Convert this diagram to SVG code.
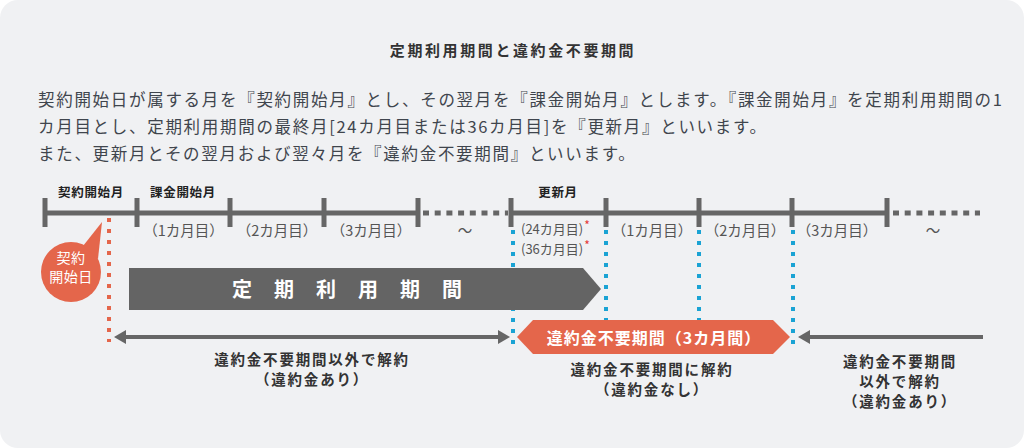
<svg xmlns="http://www.w3.org/2000/svg" width="1024" height="448" viewBox="0 0 1024 448">
<style>
.jp{font-family:"Noto Sans CJK JP","Noto Sans",sans-serif}
.title{font-size:15px;font-weight:700;fill:#333;letter-spacing:2.6px}
.body{font-size:16.5px;fill:#3f454d;letter-spacing:1.7px}
.head{font-size:12.5px;font-weight:700;fill:#222;letter-spacing:0.7px}
.mon{font-size:14.5px;fill:#555}
.sm{font-size:13px;fill:#555}
.ast{font-size:12px;fill:#e53935}
.lbl{font-size:14.5px;font-weight:700;fill:#333;letter-spacing:1.8px}
.axis{stroke:#666;stroke-width:5;fill:none}
.dash{stroke:#666;stroke-width:5;stroke-dasharray:6 5.7;fill:none}
.blue{stroke:#1aa3d4;stroke-width:4;stroke-dasharray:4 7;fill:none}
.red{stroke:#e4664b;stroke-width:4;stroke-dasharray:4 7;fill:none}
.arr{stroke:#666;stroke-width:4;fill:none}
</style>
<defs>
<marker id="ah" viewBox="0 0 12 14" refX="0" refY="7" markerWidth="12" markerHeight="14" markerUnits="userSpaceOnUse" orient="auto-start-reverse">
<path d="M0,0 L12,7 L0,14 Z" fill="#666"/>
</marker>
</defs>
<rect id="background" x="0" y="0" width="1024" height="448" rx="18" fill="#f0f1f3"/>
<g id="title"><text class="jp title" x="513" y="56" text-anchor="middle">定期利用期間と違約金不要期間</text></g>
<g id="description" class="jp body">
<text x="38" y="106">契約開始日が属する月を『契約開始月』とし、その翌月を『課金開始月』とします。『課金開始月』を定期利用期間の1</text>
<text x="38" y="133">カ月目とし、定期利用期間の最終月[24カ月目または36カ月目]を『更新月』といいます。</text>
<text x="38" y="160">また、更新月とその翌月および翌々月を『違約金不要期間』といいます。</text>
</g>
<g id="timeline">
<line class="axis" x1="45" y1="213" x2="418" y2="213"/>
<line class="axis" x1="511" y1="213" x2="887" y2="213"/>
<path class="axis" d="M45,198V227M137,198V227M230,198V227M324,198V227M418,198V227M511,198V227M606,198V227M699,198V227M792,198V227M887,198V227"/>
<line class="dash" x1="423" y1="213" x2="508" y2="213"/>
<line class="dash" x1="893" y1="213" x2="980" y2="213"/>
</g>
<g id="month-headers" class="jp head" text-anchor="middle">
<text x="91" y="197">契約開始月</text>
<text x="183" y="197">課金開始月</text>
<text x="558" y="197">更新月</text>
</g>
<g id="month-labels" class="jp mon" text-anchor="middle">
<text x="183.5" y="236">（1カ月目）</text>
<text x="277" y="236">（2カ月目）</text>
<text x="371" y="236">（3カ月目）</text>
<text x="465" y="236">～</text>
<text x="652" y="236">（1カ月目）</text>
<text x="745" y="236">（2カ月目）</text>
<text x="837" y="236">（3カ月目）</text>
<text x="933" y="236">～</text>
</g>
<g id="renewal-notes" class="jp">
<text class="sm" x="521" y="234">(24カ月目)<tspan class="ast" dx="1" dy="-4">*</tspan></text>
<text class="sm" x="521" y="254">(36カ月目)<tspan class="ast" dx="1" dy="-4">*</tspan></text>
</g>
<g id="connectors">
<line class="red" x1="109" y1="218" x2="109" y2="342"/>
<line class="blue" x1="513" y1="230" x2="513" y2="345"/>
<line class="blue" x1="606" y1="230" x2="606" y2="345"/>
<line class="blue" x1="699" y1="230" x2="699" y2="345"/>
<line class="blue" x1="793" y1="230" x2="793" y2="345"/>
<line class="arr" x1="126" y1="337" x2="498" y2="337" marker-start="url(#ah)" marker-end="url(#ah)"/>
<line class="arr" x1="983" y1="337" x2="810" y2="337" marker-end="url(#ah)"/>
</g>
<g id="callout">
<circle cx="71" cy="272" r="30" fill="#e4664b"/>
<path d="M83,246 L102,222 L98,259 Z" fill="#e4664b"/>
<text class="jp" x="71" y="263" text-anchor="middle" font-size="14" fill="#fff" letter-spacing="0.5">契約</text>
<text class="jp" x="71" y="282" text-anchor="middle" font-size="14" fill="#fff" letter-spacing="0.5">開始日</text>
</g>
<g id="term-bar">
<path d="M129,268 H583 L601,289 L583,310 H129 Z" fill="#646464"/>
<text class="jp" x="232" y="297" font-size="20" font-weight="700" fill="#fff" letter-spacing="22">定期利用期間</text>
</g>
<g id="free-period">
<path d="M517,337 L533,320 H773 L790,337 L773,354 H533 Z" fill="#e4664b"/>
<text class="jp" x="654" y="344" text-anchor="middle" font-size="16" font-weight="700" fill="#fff" letter-spacing="1">違約金不要期間（3カ月間）</text>
</g>
<g id="bottom-labels" class="jp lbl" text-anchor="middle">
<text x="312" y="365">違約金不要期間以外で解約</text>
<text x="312" y="385">（違約金あり）</text>
<text x="652" y="375">違約金不要期間に解約</text>
<text x="652" y="395">（違約金なし）</text>
<text x="900" y="367">違約金不要期間</text>
<text x="900" y="387">以外で解約</text>
<text x="900" y="407">（違約金あり）</text>
</g>
</svg>
